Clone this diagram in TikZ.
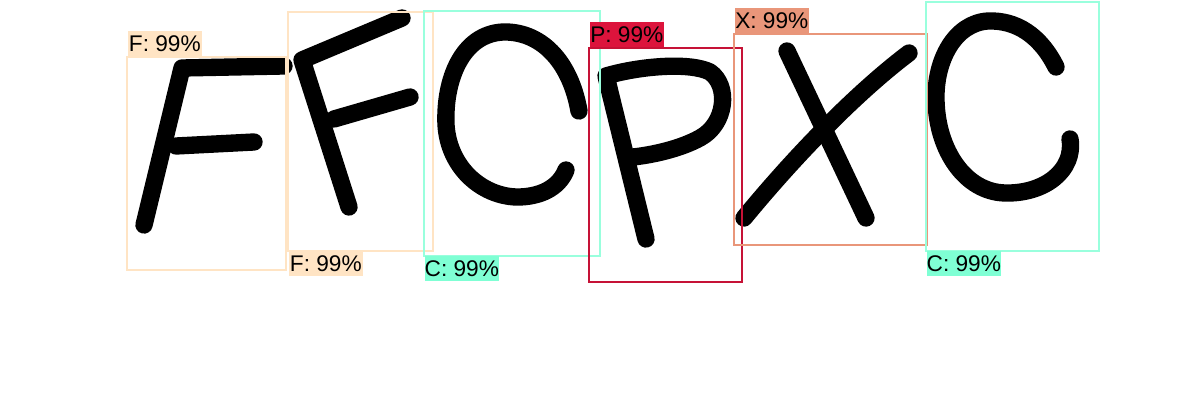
\documentclass[tikz,border=0pt]{standalone}
\usepackage{fontspec}
\setmainfont{Liberation Sans}
\definecolor{fcol}{RGB}{255,228,196}
\definecolor{ccol}{RGB}{127,255,212}
\definecolor{pcol}{RGB}{220,20,60}
\definecolor{xcol}{RGB}{233,150,122}
\tikzset{every picture/.style={line width=0.75pt}}
\tikzset{
  ink/.style={line width=13pt, line cap=round, line join=round},
  detbox/.style={draw=#1, line width=1.5pt},
  tag/.style={fill=#1, inner sep=0pt, minimum width=56pt, minimum height=18.75pt,
    font=\fontsize{17}{17}\selectfont, text=black}
}
\begin{document}
\begin{tikzpicture}[x=0.75pt,y=0.75pt,yscale=-1,xscale=1]
\useasboundingbox (0,0) rectangle (1200,420);

%Shape: Letter F
\draw [ink]   (144,225) -- (182,68) -- (284,66) ;
\draw [ink]   (176,146) -- (254,142) ;
%Shape: Letter F
\draw [ink]   (349,207) -- (302,60) -- (402,18) ;
\draw [ink]   (334,119) -- (410,97) ;
%Shape: Letter C
\draw [ink]   (579,111) .. controls (570,60) and (540,31) .. (503,32) .. controls (462,34) and (444,80) .. (446,125) .. controls (449,170) and (485,198) .. (520,197) .. controls (545,196) and (560,185) .. (566,170) ;
%Shape: Letter P
\draw [ink]   (646,239) -- (606,76) .. controls (640,66) and (690,62) .. (710,72) .. controls (730,86) and (726,124) .. (700,138) .. controls (680,149) and (652,155) .. (633,157) ;
%Shape: Letter X
\draw [ink]   (787,51) -- (866,218) ;
\draw [ink]   (909,53) .. controls (860,90) and (800,150) .. (744,218) ;
%Shape: Letter C
\draw [ink]   (1056,67) .. controls (1040,35) and (1016,20) .. (988,21) .. controls (955,23) and (935,60) .. (936,100) .. controls (937,150) and (965,192) .. (1005,193) .. controls (1045,194) and (1075,170) .. (1070,139) ;

%Shape: Rectangle
\draw [detbox=fcol]   (127,57) rectangle (286,270) ;
%Shape: Rectangle
\draw [detbox=fcol]   (288,12) rectangle (433,251) ;
%Shape: Rectangle
\draw [detbox=ccol!80!white]   (424,11) rectangle (600,256) ;
%Shape: Rectangle
\draw [detbox=pcol!90!black]   (589,48) rectangle (742,282) ;
%Shape: Rectangle
\draw [detbox=xcol]   (734,34) rectangle (927,245) ;
%Shape: Rectangle
\draw [detbox=ccol!80!white]   (926,2) rectangle (1099,251) ;

% Text Node
\node [tag=fcol, anchor=south west] (tagf1) at (127,57) {F: 99\%};
% Text Node
\node [tag=fcol, anchor=north west] (tagf2) at (288,251) {F: 99\%};
% Text Node
\node [tag=ccol, anchor=north west] (tagc1) at (424,256) {C: 99\%};
% Text Node
\node [tag=pcol, anchor=south west] (tagp) at (589,48) {P: 99\%};
% Text Node
\node [tag=xcol, anchor=south west] (tagx) at (734,34) {X: 99\%};
% Text Node
\node [tag=ccol, anchor=north west] (tagc2) at (926,251) {C: 99\%};

\end{tikzpicture}
\end{document}
